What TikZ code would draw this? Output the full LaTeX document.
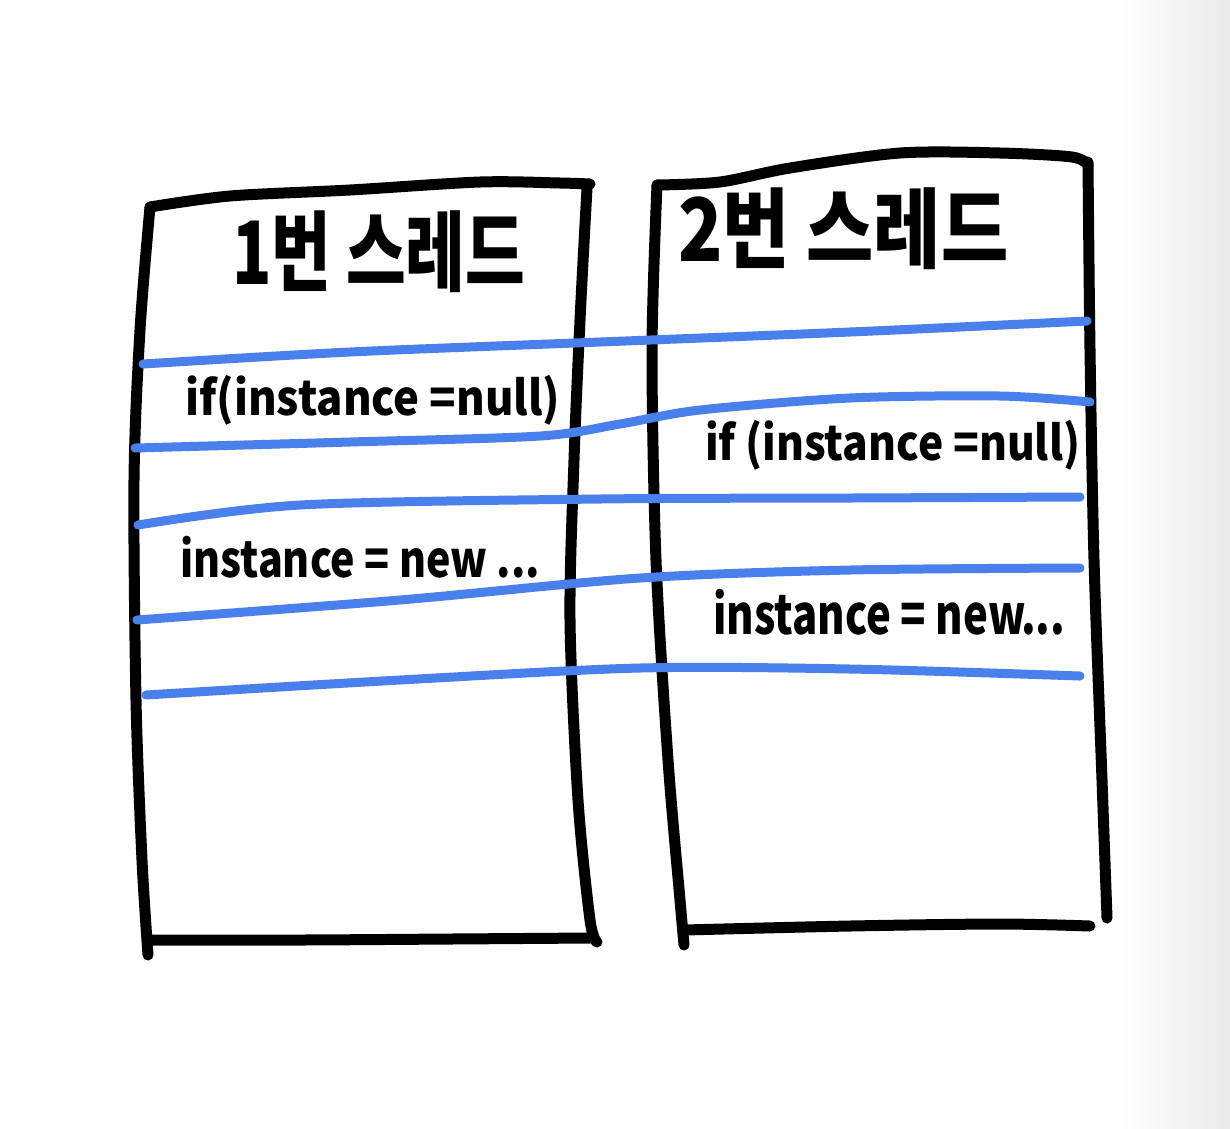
\documentclass[tikz,border=0pt]{standalone}
\usepackage{fontspec}
\setmainfont{Noto Sans CJK KR}
\newfontfamily\krfont{Noto Sans CJK KR}
\definecolor{pen}{HTML}{4A80EC}
\begin{document}
\begin{tikzpicture}[x=1pt,y=-1pt,
  box/.style={line width=11pt,line cap=round,line join=round,black},
  blueline/.style={line width=9pt,line cap=round,pen},
  code/.style={inner sep=0pt,anchor=west,font=\bfseries},
  title/.style={inner sep=0pt,anchor=west,font=\krfont\bfseries}]
\useasboundingbox (0,0) rectangle (1230,1128);
\fill[white] (0,0) rectangle (1230,1128);
\shade[left color=white,right color=black!8] (1120,0) rectangle (1230,1128);
% left box
\draw[box] plot[smooth] coordinates {(150,207) (230,196) (350,190) (480,182) (560,183) (590,184)};
\draw[box] plot[smooth] coordinates {(150,207) (140,330) (134,480) (136,700) (142,860) (148,955)};
\draw[box] plot[smooth] coordinates {(587,188) (580,320) (574,460) (570,620) (578,800) (590,920) (597,942)};
\draw[box] plot[smooth] coordinates {(148,940) (300,940) (450,939) (590,938)};
% right box
\draw[box] plot[smooth] coordinates {(657,185) (720,182) (790,168) (900,153) (1000,153) (1072,157) (1088,165)};
\draw[box] plot[smooth] coordinates {(657,185) (652,350) (656,560) (668,760) (680,900) (684,945)};
\draw[box] plot[smooth] coordinates {(1088,162) (1090,350) (1094,560) (1102,780) (1107,918)};
\draw[box] plot[smooth] coordinates {(684,930) (850,926) (1000,924) (1090,926)};
% blue lines
\draw[blueline] plot[smooth] coordinates {(143,364) (350,352) (600,342) (850,332) (1087,321)};
\draw[blueline] plot[smooth] coordinates {(135,448) (350,442) (540,436) (620,424) (700,410) (850,398) (1000,396) (1090,402)};
\draw[blueline] plot[smooth] coordinates {(138,525) (300,505) (600,499) (850,498) (1080,497)};
\draw[blueline] plot[smooth] coordinates {(137,620) (400,600) (640,578) (850,570) (1080,568)};
\draw[blueline] plot[smooth] coordinates {(146,695) (400,680) (640,668) (850,669) (1080,676)};
% titles
\node[title] (t1) at (232,252) {\resizebox*{293pt}{82pt}{1번 스레드}};
\node[title] (t2) at (678,229) {\resizebox*{330pt}{82pt}{2번 스레드}};
% code texts
\node[code] (c1) at (185,400) {\resizebox*{375pt}{50pt}{if(instance =null)}};
\node[code] (c2) at (705,445) {\resizebox*{375pt}{50pt}{if (instance =null)}};
\node[code] (c3) at (180,557) {\resizebox*{360pt}{42pt}{instance = new ...}};
\node[code] (c4) at (713,612) {\resizebox*{352pt}{46pt}{instance = new...}};
\end{tikzpicture}
\end{document}
